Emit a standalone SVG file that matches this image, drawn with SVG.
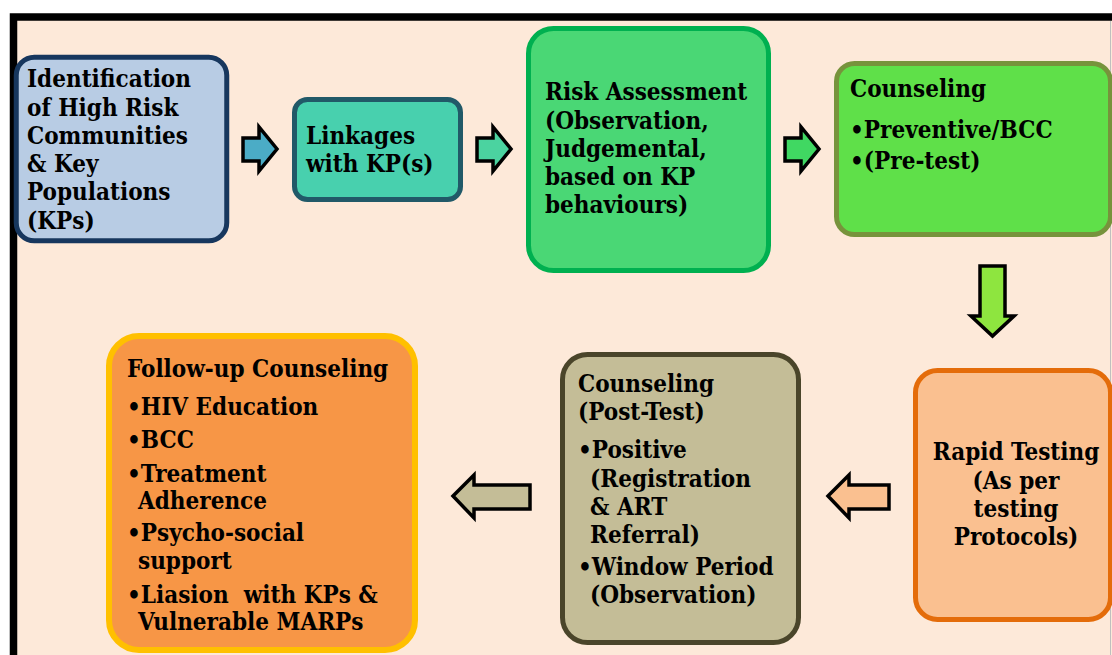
<svg xmlns="http://www.w3.org/2000/svg" width="1112" height="655" viewBox="0 0 1112 655">
<style>
text{font-family:"DejaVu Serif Condensed","Liberation Serif",serif;font-weight:bold;font-size:24px;fill:#000}
.box{stroke-width:5}
.arr{stroke:#000;stroke-width:3.5;stroke-linejoin:miter}
</style>
<rect x="0" y="0" width="1112" height="655" fill="#ffffff"/>
<rect x="13.5" y="17" width="1200" height="700" fill="#FDE9D9" stroke="#000" stroke-width="7.5"/>
<line x1="1110.5" y1="21" x2="1110.5" y2="655" stroke="#bfbfbf" stroke-width="1"/>

<g id="connectors">
<path class="arr" fill="#4BACC6" d="M243,138 H259 V127 L277,149 L259,171 V161 H243 Z"/>
<path class="arr" fill="#4BD3A0" d="M477,138 H493 V127 L511,149 L493,171 V161 H477 Z"/>
<path class="arr" fill="#40D862" d="M785,138 H801 V127 L819,149 L801,171 V161 H785 Z"/>
<path class="arr" fill="#8EE53F" d="M980,266 H1005 V316 H1014 L992.5,336 L971,316 H980 Z"/>
<path class="arr" fill="#FAC090" d="M828,496 L849,475 V485 H889 V509 H849 V518 Z"/>
<path class="arr" fill="#C4BD97" d="M453,496 L474,475 V485 H530 V509 H474 V518 Z"/>
</g>

<g id="node-identification">
<rect class="box" x="16.25" y="57.25" width="210.5" height="183.5" rx="18" fill="#B8CCE4" stroke="#17375E" stroke-width="4.5"/>
<text><tspan x="27" y="87">Identification</tspan><tspan x="27" y="115.5">of High Risk</tspan><tspan x="27" y="143.5">Communities</tspan><tspan x="27" y="172">&amp; Key</tspan><tspan x="27" y="200">Populations</tspan><tspan x="27" y="228.5">(KPs)</tspan></text>
</g>

<g id="node-linkages">
<rect class="box" x="294.5" y="99.5" width="166" height="100" rx="13" fill="#48D0AE" stroke="#215968"/>
<text><tspan x="306" y="144">Linkages</tspan><tspan x="306" y="172">with KP(s)</tspan></text>
</g>

<g id="node-risk">
<rect class="box" x="528.5" y="28.5" width="240" height="242" rx="25" fill="#4AD775" stroke="#00B050"/>
<text><tspan x="545" y="100">Risk Assessment</tspan><tspan x="545" y="129">(Observation,</tspan><tspan x="545" y="157">Judgemental,</tspan><tspan x="545" y="185">based on KP</tspan><tspan x="545" y="213">behaviours)</tspan></text>
</g>

<g id="node-counseling">
<rect class="box" x="836.5" y="63.5" width="274" height="171" rx="18" fill="#5FE049" stroke="#77933C"/>
<text><tspan x="850" y="97">Counseling</tspan><tspan x="850" y="138">•Preventive/BCC</tspan><tspan x="850" y="169">•(Pre-test)</tspan></text>
</g>

<g id="node-rapid">
<rect class="box" x="915.5" y="370.5" width="195" height="249" rx="22" fill="#FAC090" stroke="#E46C0A"/>
<text text-anchor="middle"><tspan x="1016" y="460">Rapid Testing</tspan><tspan x="1016" y="489">(As per</tspan><tspan x="1016" y="517">testing</tspan><tspan x="1016" y="545">Protocols)</tspan></text>
</g>

<g id="node-posttest">
<rect class="box" x="562.5" y="354.5" width="236" height="288" rx="25" fill="#C4BD97" stroke="#4A452A"/>
<text><tspan x="578" y="392">Counseling</tspan><tspan x="578" y="420">(Post-Test)</tspan><tspan x="578" y="458">•Positive</tspan><tspan x="590" y="487">(Registration</tspan><tspan x="590" y="515">&amp; ART</tspan><tspan x="590" y="543">Referral)</tspan><tspan x="578" y="575">•Window Period</tspan><tspan x="590" y="603">(Observation)</tspan></text>
</g>

<g id="node-followup">
<rect x="109" y="336" width="306" height="314" rx="30" fill="#F79646" stroke="#FFC000" stroke-width="6"/>
<text><tspan x="127" y="377">Follow-up Counseling</tspan><tspan x="127" y="415">•HIV Education</tspan><tspan x="127" y="448">•BCC</tspan><tspan x="127" y="482">•Treatment</tspan><tspan x="138" y="509">Adherence</tspan><tspan x="127" y="541">•Psycho-social</tspan><tspan x="138" y="569">support</tspan><tspan x="127" y="603" xml:space="preserve">•Liasion  with KPs &amp;</tspan><tspan x="138" y="630">Vulnerable MARPs</tspan></text>
</g>
</svg>
